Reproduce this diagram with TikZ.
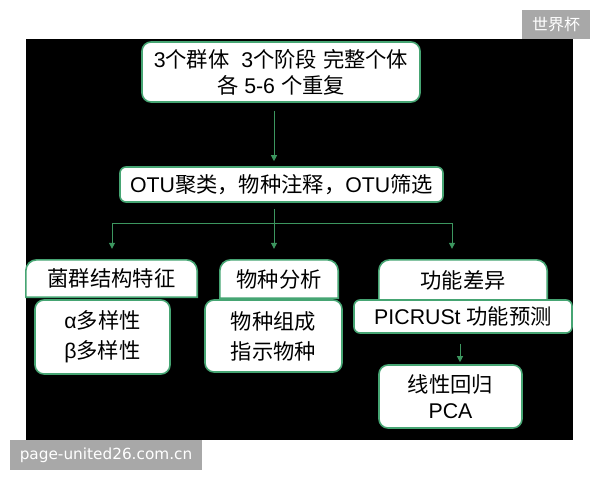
\documentclass[tikz,border=0pt]{standalone}
\usepackage{fontspec}
\setmainfont{Liberation Sans}
\newfontfamily\cjk{Noto Sans CJK SC}
\newfontfamily\wmfont{DejaVu Sans}
\usetikzlibrary{arrows.meta}
\pgfdeclarelayer{back}
\pgfdeclarelayer{bg}
\pgfsetlayers{back,bg,main}
\definecolor{bord}{RGB}{70,165,115}
\definecolor{arrc}{RGB}{60,150,95}
\definecolor{wmgrey}{RGB}{168,168,168}
\tikzset{
  box/.style={fill=white, draw=bord, line width=1.6pt, rounded corners=9pt, inner sep=0pt, align=center,
     font=\fontsize{21.3}{26}\selectfont},
  tallbox/.style={box, font=\fontsize{21.3}{30}\selectfont},
  hdr/.style={inner sep=0pt, font=\fontsize{21.3}{26}\selectfont},
  hdrshape/.style={fill=white, draw=bord, line width=1.6pt},
  ln/.style={draw=arrc, line width=1pt},
  arr/.style={ln, -{Triangle[length=6pt,width=6pt]}},
  wm/.style={fill=wmgrey, text=white, inner sep=0pt}
}
\newcommand{\hdrpath}[1]{%
  \draw[hdrshape] (#1.south west) -- ([yshift=-11pt]#1.north west)
    arc[start angle=180,end angle=90,radius=11pt] -- ([xshift=-11pt]#1.north east)
    arc[start angle=90,end angle=0,radius=11pt] -- (#1.south east) -- cycle;}
\begin{document}
\begin{tikzpicture}[x=1pt,y=-1pt]
\useasboundingbox (0,0) rectangle (600,480);
\begin{pgfonlayer}{back}
\fill[white] (0,0) rectangle (600,480);
\fill[black] (26,39) rectangle (573,440);
\end{pgfonlayer}
% watermarks
\node[wm, minimum width=68pt, minimum height=29pt, font=\cjk\fontsize{16}{16}\selectfont] (wm1) at (556,24.5) {世界杯};
\node[wm, minimum width=192pt, minimum height=30pt, font=\wmfont\fontsize{15.3}{15}\selectfont] (wm2) at (106,455) {page-united26.com.cn};
% top nodes
\node[box, minimum width=278pt, minimum height=60pt] (top) at (281,72)
  {3{\cjk 个群体}\ \ 3{\cjk 个阶段} {\cjk 完整个体}\\{\cjk 各} 5-6 {\cjk 个重复}};
\node[box, minimum width=323pt, minimum height=35pt, rounded corners=6pt] (otu) at (281.5,184.5)
  {OTU{\cjk 聚类，物种注释，}OTU{\cjk 筛选}};
% headers
\node[hdr, minimum width=171pt, minimum height=37pt] (h1) at (111.5,278.5) {\cjk 菌群结构特征};
\node[hdr, minimum width=118pt, minimum height=38pt] (h2) at (279,279) {\cjk 物种分析};
\node[hdr, minimum width=168pt, minimum height=40pt] (h3) at (463,280) {\cjk 功能差异};
\begin{pgfonlayer}{bg}
\hdrpath{h1}
\hdrpath{h2}
\hdrpath{h3}
\end{pgfonlayer}
% lower boxes
\node[tallbox, minimum width=135pt, minimum height=74pt] (b1) at (102.5,337) {α{\cjk 多样性}\\β{\cjk 多样性}};
\node[tallbox, minimum width=137pt, minimum height=72pt] (b2) at (273.5,336) {\cjk 物种组成\\\cjk 指示物种};
\node[box, minimum width=218pt, minimum height=33pt, rounded corners=6pt] (b3) at (463,316.5) {PICRUSt {\cjk 功能预测}};
\node[box, minimum width=143pt, minimum height=63pt] (b4) at (450.5,396.5) {{\cjk 线性回归}\\PCA};
% connectors
\coordinate (ax) at (274,0);
\coordinate (bx) at (460,0);
\coordinate (j) at (274,223);
\coordinate (jl) at (112,223);
\coordinate (jr) at (452,223);
\draw[arr, shorten <=8pt, shorten >=5pt] (top.south -| ax) -- (otu.north -| ax);
\draw[ln, shorten <=6pt] (otu.south -| ax) -- (j);
\draw[ln] (jl) -- (jr);
\draw[arr, shorten >=11pt] (jl) -- (jl |- h1.north);
\draw[arr, shorten >=11pt] (j) -- (j |- h2.north);
\draw[arr, shorten >=11pt] (jr) -- (jr |- h3.north);
\draw[arr, shorten <=10pt, shorten >=2pt] (b3.south -| bx) -- (b4.north -| bx);
\end{tikzpicture}
\end{document}
